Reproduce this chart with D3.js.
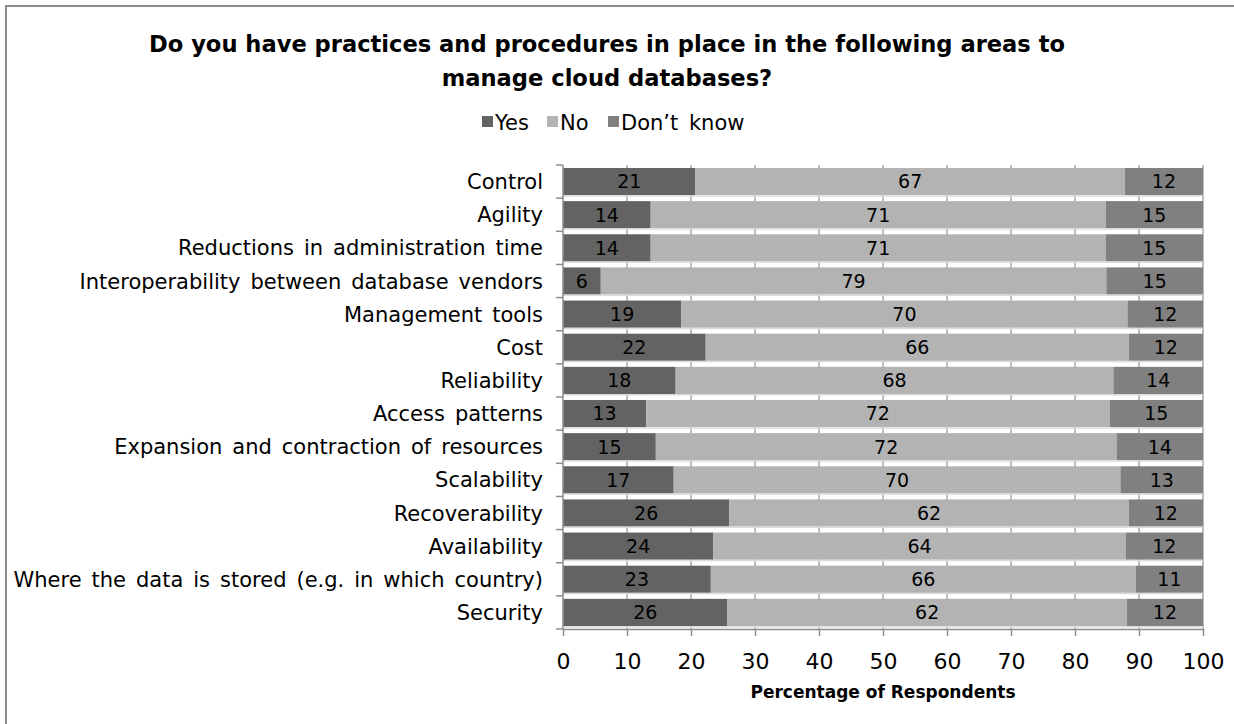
<!DOCTYPE html>
<html>
<head>
<meta charset="utf-8">
<script src="https://cdn.jsdelivr.net/npm/d3@7"></script>
<style>
  html, body { margin: 0; background: #fff; overflow: hidden; }
  svg { display: block; }
  text { font-family: "DejaVu Sans", sans-serif; fill: #000; }
</style>
</head>
<body>
<div id="wrapper"></div>
<script>
// data (percent of respondents)
const categories = [
  "Control",
  "Agility",
  "Reductions in administration time",
  "Interoperability between database vendors",
  "Management tools",
  "Cost",
  "Reliability",
  "Access patterns",
  "Expansion and contraction of resources",
  "Scalability",
  "Recoverability",
  "Availability",
  "Where the data is stored (e.g. in which country)",
  "Security"
]
const yesValues = [20.7, 13.7, 13.7, 5.9, 18.5, 22.3, 17.6, 13.0, 14.5, 17.3, 26.0, 23.5, 23.1, 25.7]
const noValues = [67.1, 71.1, 71.1, 79.0, 69.7, 66.1, 68.4, 72.4, 72.0, 69.8, 62.4, 64.4, 66.4, 62.4]
const dontKnowValues = [12.2, 15.2, 15.2, 15.1, 11.8, 11.6, 14.0, 14.6, 13.5, 12.9, 11.6, 12.1, 10.5, 11.9]
const seriesNames = ["Yes", "No", "Don\u2019t know"]
const seriesColors = ["#636363", "#b3b3b3", "#808080"]
const xTicks = [0, 10, 20, 30, 40, 50, 60, 70, 80, 90, 100]

function drawChart() {
  const width = 1234
  const height = 724
  const margin = {top: 165, right: 31, bottom: 95, left: 563}
  const boundedWidth = width - margin.left - margin.right
  const boundedHeight = height - margin.top - margin.bottom

  const dataset = categories.map((c, i) => ({
    category: c, Yes: yesValues[i], No: noValues[i], DK: dontKnowValues[i]
  }))
  const keys = ["Yes", "No", "DK"]
  const stacked = d3.stack().keys(keys)(dataset)

  const svg = d3.select("#wrapper").append("svg")
    .attr("width", width)
    .attr("height", height)

  // chart frame: only the left and top edges show in the picture
  svg.append("path")
    .attr("d", `M6,${height} V6 H${width}`)
    .attr("fill", "none")
    .attr("stroke", "#8c8c8c")
    .attr("stroke-width", 2)

  // title
  const title = svg.append("text")
    .attr("text-anchor", "middle")
    .style("font-weight", "bold")
    .style("font-size", "22.6px")
  title.append("tspan").attr("x", 607).attr("y", 52)
    .text("Do you have practices and procedures in place in the following areas to")
  title.append("tspan").attr("x", 607).attr("y", 86)
    .text("manage cloud databases?")

  // legend
  const legend = svg.append("g").attr("transform", "translate(482, 122)")
  const legendX = [0, 65, 126]
  seriesNames.forEach((name, i) => {
    const g = legend.append("g").attr("transform", `translate(${legendX[i]}, 0)`)
    g.append("rect")
      .attr("x", 0).attr("y", -6)
      .attr("width", 11).attr("height", 11)
      .attr("fill", seriesColors[i])
    g.append("text")
      .attr("x", 13).attr("y", 0)
      .attr("dy", "0.36em")
      .style("font-size", "21px")
      .style("word-spacing", "4px")
      .text(name)
  })

  const bounds = svg.append("g")
    .attr("transform", `translate(${margin.left}, ${margin.top})`)

  const xScale = d3.scaleLinear()
    .domain([0, 100])
    .range([0, boundedWidth])

  const yScale = d3.scaleBand()
    .domain(categories)
    .range([0, boundedHeight])
    .paddingInner(0.18)
    .paddingOuter(0.09)

  // vertical gridlines
  bounds.append("g")
    .selectAll("line")
    .data(xTicks.slice(1))
    .join("line")
      .attr("x1", d => xScale(d)).attr("x2", d => xScale(d))
      .attr("y1", 0).attr("y2", boundedHeight)
      .attr("stroke", "#a6a6a6")
      .attr("stroke-width", 1.5)

  // bars
  const layers = bounds.selectAll(".layer")
    .data(stacked)
    .join("g")
      .attr("class", "layer")
      .attr("fill", (d, i) => seriesColors[i])

  layers.selectAll("rect")
    .data(d => d)
    .join("rect")
      .attr("x", d => xScale(d[0]))
      .attr("y", d => yScale(d.data.category))
      .attr("width", d => xScale(d[1]) - xScale(d[0]))
      .attr("height", yScale.bandwidth())

  // faint shadow line under each bar
  bounds.append("g")
    .selectAll("line")
    .data(categories)
    .join("line")
      .attr("x1", 0).attr("x2", boundedWidth)
      .attr("y1", d => yScale(d) + yScale.bandwidth() + 0.75)
      .attr("y2", d => yScale(d) + yScale.bandwidth() + 0.75)
      .attr("stroke", "#dcdcdc")
      .attr("stroke-width", 1.5)

  // value labels
  layers.selectAll("text")
    .data(d => d)
    .join("text")
      .attr("x", d => (xScale(d[0]) + xScale(d[1])) / 2)
      .attr("y", d => yScale(d.data.category) + yScale.bandwidth() / 2)
      .attr("dy", "0.36em")
      .attr("text-anchor", "middle")
      .style("font-size", "19px")
      .style("fill", "#000")
      .text(d => Math.round(d[1] - d[0]))

  // y axis
  const yAxis = bounds.append("g")
  yAxis.append("line")
    .attr("x1", 0).attr("x2", 0)
    .attr("y1", 0).attr("y2", boundedHeight)
    .attr("stroke", "#8c8c8c").attr("stroke-width", 1.5)
  const yTickPos = categories.map(c => yScale(c) - yScale.step() * yScale.paddingInner() / 2)
  yTickPos.push(boundedHeight)
  yAxis.selectAll(".ytick")
    .data(yTickPos)
    .join("line")
      .attr("class", "ytick")
      .attr("x1", -7).attr("x2", 0)
      .attr("y1", d => Math.max(d, 0)).attr("y2", d => Math.max(d, 0))
      .attr("stroke", "#8c8c8c").attr("stroke-width", 1.5)
  yAxis.selectAll(".ylabel")
    .data(categories)
    .join("text")
      .attr("class", "ylabel")
      .attr("x", -20)
      .attr("y", d => yScale(d) + yScale.bandwidth() / 2)
      .attr("dy", "0.36em")
      .attr("text-anchor", "end")
      .style("font-size", "21px")
      .style("word-spacing", "3.3px")
      .text(d => d)

  // x axis
  const xAxisGenerator = d3.axisBottom(xScale)
    .tickValues(xTicks)
    .tickSize(7)
    .tickSizeOuter(0)
    .tickPadding(17)

  const xAxis = bounds.append("g")
    .attr("transform", `translate(0, ${boundedHeight})`)
    .call(xAxisGenerator)
  xAxis.select(".domain").attr("stroke", "#8c8c8c").attr("stroke-width", 1.5)
  xAxis.selectAll(".tick line").attr("stroke", "#8c8c8c").attr("stroke-width", 1.5)
  xAxis.selectAll(".tick text")
    .style("font-size", "22px")
    .style("font-family", "'DejaVu Sans', sans-serif")
    .attr("fill", "#000")

  bounds.append("text")
    .attr("x", boundedWidth / 2)
    .attr("y", boundedHeight + 69)
    .attr("text-anchor", "middle")
    .style("font-weight", "bold")
    .style("font-size", "17px")
    .text("Percentage of Respondents")
}
drawChart()
</script>
</body>
</html>
